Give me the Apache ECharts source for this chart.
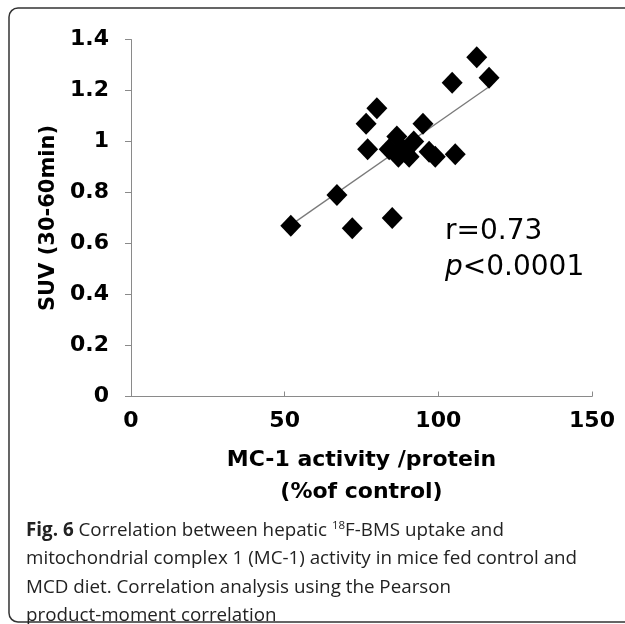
<!DOCTYPE html>
<html>
<head>
<meta charset="utf-8">
<script src="https://cdn.jsdelivr.net/npm/echarts@6/dist/echarts.min.js"></script>
<style>
  html, body { margin: 0; padding: 0; background: #fff; }
  #chart { width: 625px; height: 624px; }
</style>
</head>
<body>
<div id="chart"></div>
<script>
// MC-1 activity (% of control) vs SUV (30-60 min)
const mc1Activity = [52, 67, 72, 85, 76.5, 80, 77, 84, 86.5, 87, 90.5, 92, 88.5, 95, 97, 99, 105.5, 104.5, 112.5, 116.5, 89];
const suvValues = [0.67, 0.79, 0.66, 0.70, 1.07, 1.13, 0.97, 0.97, 1.02, 0.94, 0.94, 1.00, 0.97, 1.07, 0.96, 0.94, 0.95, 1.23, 1.33, 1.25, 0.96];

// fitted line ends
const trendX = [52.3, 116.5];
const trendY = [0.675, 1.215];

const xTicks = [0, 50, 100, 150];
const yTicks = [0, 0.2, 0.4, 0.6, 0.8, 1.0, 1.2, 1.4];

const chart = echarts.init(document.getElementById('chart'));

const AXIS_COLOR = '#8a8a8a';
const BOLD_FONT = 'DejaVu Sans';
const CAPTION_FONT = '18.8px "Open Sans"';

const option = {
  backgroundColor: '#fff',
  animation: false,
  grid: {
    left: 131,
    right: 33,
    top: 39.5,
    bottom: 227.5,
    containLabel: false
  },
  xAxis: {
    type: 'value',
    min: xTicks[0],
    max: xTicks[xTicks.length - 1],
    interval: 50,
    name: 'MC-1 activity /protein\n(%of control)',
    nameLocation: 'middle',
    nameGap: 48,
    nameTextStyle: {
      fontFamily: BOLD_FONT,
      fontWeight: 'bold',
      fontSize: 22,
      lineHeight: 32,
      color: '#000'
    },
    splitLine: { show: false },
    axisLine: { show: true, onZero: false, lineStyle: { color: AXIS_COLOR, width: 1 } },
    axisTick: { show: true, inside: true, length: 5, lineStyle: { color: AXIS_COLOR } },
    axisLabel: {
      margin: 14,
      fontFamily: BOLD_FONT,
      fontWeight: 'bold',
      fontSize: 22,
      color: '#000'
    }
  },
  yAxis: {
    type: 'value',
    min: yTicks[0],
    max: yTicks[yTicks.length - 1],
    interval: 0.2,
    name: 'SUV (30-60min)',
    nameLocation: 'middle',
    nameGap: 72,
    nameTextStyle: {
      fontFamily: BOLD_FONT,
      fontWeight: 'bold',
      fontSize: 21,
      color: '#000'
    },
    splitLine: { show: false },
    axisLine: { show: true, lineStyle: { color: AXIS_COLOR, width: 1 } },
    axisTick: { show: true, length: 6, lineStyle: { color: AXIS_COLOR } },
    axisLabel: {
      margin: 22,
      fontFamily: BOLD_FONT,
      fontWeight: 'bold',
      fontSize: 22,
      color: '#000',
      formatter: v => (v === 0 || v === 1) ? String(v) : v.toFixed(1)
    }
  },
  series: [
    {
      name: 'fit',
      type: 'line',
      data: trendX.map((x, i) => [x, trendY[i]]),
      symbol: 'none',
      lineStyle: { color: '#7a7a7a', width: 1.3 },
      z: 1
    },
    {
      name: 'mice',
      type: 'scatter',
      data: mc1Activity.map((x, i) => [x, suvValues[i]]),
      symbol: 'diamond',
      symbolSize: [21, 22],
      itemStyle: { color: '#000', opacity: 1 },
      z: 2
    }
  ],
  graphic: [
    {
      type: 'rect',
      shape: { x: 9, y: 8, width: 640, height: 614, r: 9 },
      style: { fill: 'none', stroke: '#333', lineWidth: 1.5 },
      silent: true
    },
    {
      type: 'text',
      left: 445,
      top: 218,
      style: {
        text: 'r=0.73',
        font: '28px "DejaVu Sans"',
        fill: '#000'
      }
    },
    {
      type: 'text',
      left: 445,
      top: 254,
      style: {
        text: '{i|p}<0.0001',
        font: '28px "DejaVu Sans"',
        fill: '#000',
        rich: {
          i: { fontStyle: 'italic', fontSize: 28, fontFamily: 'DejaVu Sans' }
        }
      }
    },
    {
      type: 'text',
      left: 26,
      top: 520,
      style: {
        text: '{b|Fig. 6} Correlation between hepatic {sup|18}F-BMS uptake and',
        font: CAPTION_FONT,
        fill: '#222',
        rich: {
          b: { fontWeight: 'bold', fontSize: 18.8, fontFamily: 'Open Sans' },
          sup: { fontSize: 11.5, fontFamily: 'Open Sans', padding: [0, 0, 10, 0] }
        }
      }
    },
    {
      type: 'text',
      left: 26,
      top: 549,
      style: {
        text: 'mitochondrial complex 1 (MC-1) activity in mice fed control and',
        font: CAPTION_FONT,
        fill: '#222'
      }
    },
    {
      type: 'text',
      left: 26,
      top: 578,
      style: {
        text: 'MCD diet. Correlation analysis using the Pearson',
        font: CAPTION_FONT,
        fill: '#222'
      }
    },
    {
      type: 'text',
      left: 26,
      top: 606,
      style: {
        text: 'product-moment correlation',
        font: CAPTION_FONT,
        fill: '#222'
      }
    }
  ]
};

chart.setOption(option);
</script>
</body>
</html>
